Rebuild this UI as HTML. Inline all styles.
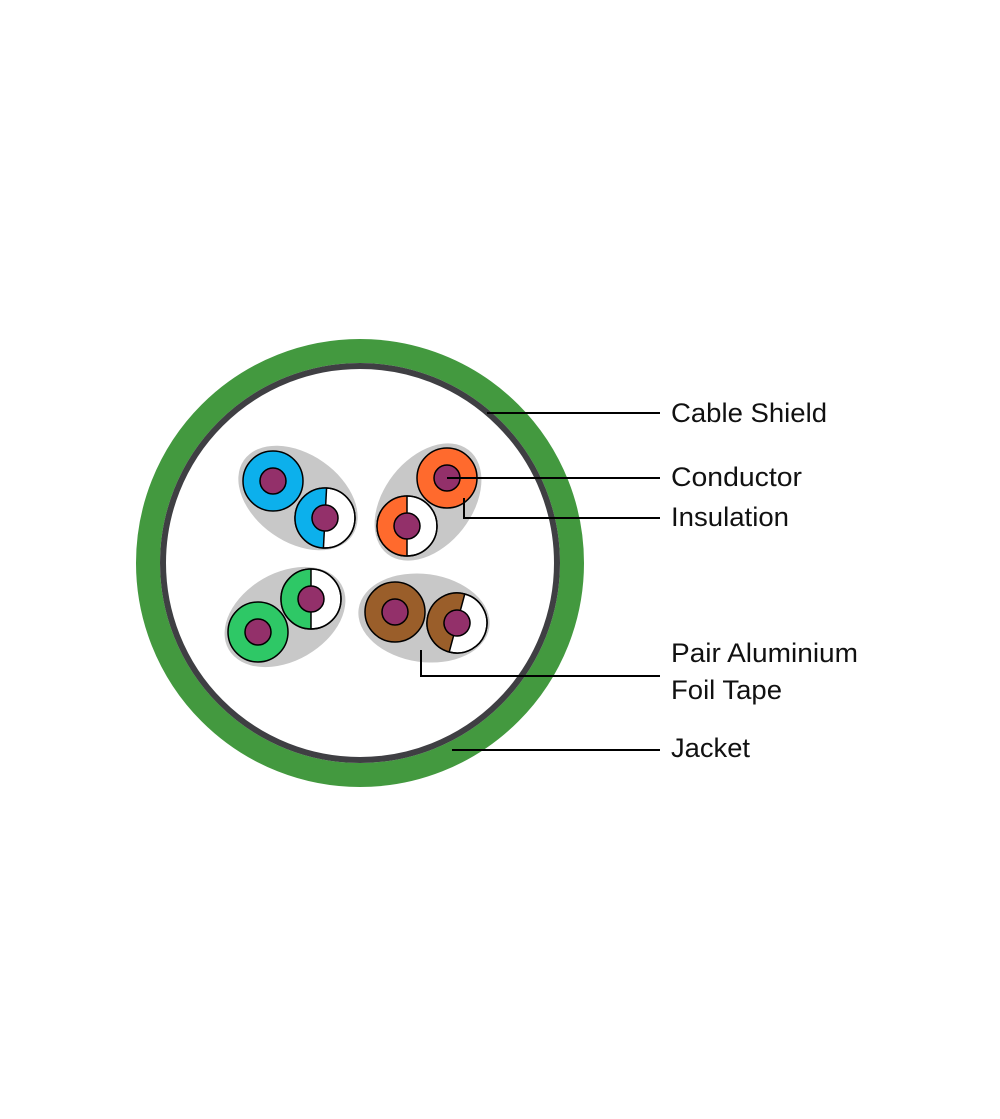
<!DOCTYPE html>
<html><head><meta charset="utf-8"><style>html,body{margin:0;padding:0;background:#fff}svg{display:block}</style></head>
<body>
<svg width="1000" height="1119" viewBox="0 0 1000 1119" xmlns="http://www.w3.org/2000/svg">
<defs>
<clipPath id="L"><rect x="-40" y="-40" width="40" height="80"/></clipPath>
</defs>
<circle cx="360" cy="563" r="212" fill="none" stroke="#43993f" stroke-width="24"/>
<circle cx="360" cy="563" r="197" fill="#fff" stroke="#3f3f43" stroke-width="6"/>
<g stroke="#000" stroke-width="1.5">
<!-- blue -->
<ellipse cx="298" cy="498" rx="66" ry="44" transform="rotate(35 298 498)" fill="#c8c8c8" stroke="none"/>
<circle cx="273" cy="481" r="30" fill="#0cb0ec"/><circle cx="273" cy="481" r="13" fill="#93306a"/>
<g transform="translate(325 518) rotate(3)"><circle r="30" fill="#fff"/><circle r="30" fill="#0cb0ec" clip-path="url(#L)" stroke="none"/><line x1="0" y1="-30" x2="0" y2="30"/><circle r="30" fill="none"/><circle r="13" fill="#93306a"/></g>
<!-- orange -->
<ellipse cx="428" cy="502" rx="66" ry="44" transform="rotate(-52 428 502)" fill="#c8c8c8" stroke="none"/>
<circle cx="447" cy="478" r="30" fill="#ff6a2d"/><circle cx="447" cy="478" r="13" fill="#93306a"/>
<g transform="translate(407 526)"><circle r="30" fill="#fff"/><circle r="30" fill="#ff6a2d" clip-path="url(#L)" stroke="none"/><line x1="0" y1="-30" x2="0" y2="30"/><circle r="30" fill="none"/><circle r="13" fill="#93306a"/></g>
<!-- green -->
<ellipse cx="285" cy="617" rx="65" ry="44" transform="rotate(-30 285 617)" fill="#c8c8c8" stroke="none"/>
<circle cx="258" cy="632" r="30" fill="#2ec866"/><circle cx="258" cy="632" r="13" fill="#93306a"/>
<g transform="translate(311 599)"><circle r="30" fill="#fff"/><circle r="30" fill="#2ec866" clip-path="url(#L)" stroke="none"/><line x1="0" y1="-30" x2="0" y2="30"/><circle r="30" fill="none"/><circle r="13" fill="#93306a"/></g>
<!-- brown -->
<ellipse cx="424" cy="618" rx="66" ry="44" transform="rotate(8 424 618)" fill="#c8c8c8" stroke="none"/>
<circle cx="395" cy="612" r="30" fill="#9a5e2a"/><circle cx="395" cy="612" r="13" fill="#93306a"/>
<g transform="translate(457 623) rotate(15)"><circle r="30" fill="#fff"/><circle r="30" fill="#9a5e2a" clip-path="url(#L)" stroke="none"/><line x1="0" y1="-30" x2="0" y2="30"/><circle r="30" fill="none"/><circle r="13" fill="#93306a"/></g>
</g>
<g stroke="#000" stroke-width="2" fill="none">
<line x1="487" y1="413" x2="660" y2="413"/>
<line x1="447" y1="478" x2="660" y2="478"/>
<polyline points="464,498 464,518 660,518"/>
<polyline points="421,650 421,676 660,676"/>
<line x1="452" y1="750" x2="660" y2="750"/>
</g>
<g font-family="Liberation Sans, sans-serif" font-size="27" fill="#111">
<text x="671" y="422" textLength="156" lengthAdjust="spacingAndGlyphs">Cable Shield</text>
<text x="671" y="486" textLength="131" lengthAdjust="spacingAndGlyphs">Conductor</text>
<text x="671" y="526" textLength="118" lengthAdjust="spacingAndGlyphs">Insulation</text>
<text x="671" y="662" textLength="187" lengthAdjust="spacingAndGlyphs">Pair Aluminium</text>
<text x="671" y="699" textLength="111" lengthAdjust="spacingAndGlyphs">Foil Tape</text>
<text x="671" y="757" textLength="79" lengthAdjust="spacingAndGlyphs">Jacket</text>
</g>
</svg>
</body></html>
